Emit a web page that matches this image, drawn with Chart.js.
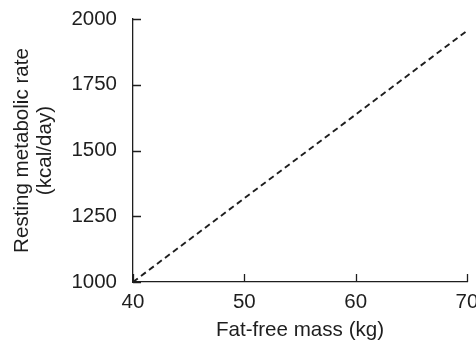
<!DOCTYPE html>
<html>
<head>
<meta charset="utf-8">
<script src="https://cdn.jsdelivr.net/npm/chart.js@4/dist/chart.umd.min.js"></script>
<style>
    html, body { margin: 0; padding: 0; background: #fff; }
    #wrap { width: 476px; height: 343px; }
</style>
</head>
<body>
<div id="wrap"><canvas id="rmrChart" width="476" height="343"></canvas></div>
<script>
// Fitted line: resting metabolic rate vs fat-free mass
const fatFreeMass = [40, 70];
const restingRate = [1000, 1955];
const xTicks = [40, 50, 60, 70];
const yTicks = [1000, 1250, 1500, 1750, 2000];

const ink = '#1e1e1e';
const labelFont = { family: 'Liberation Sans, Arial, sans-serif', size: 20.5 };
const titleFont = { family: 'Liberation Sans, Arial, sans-serif', size: 20.6, lineHeight: 1.15 };

// tick marks point into the plot, so draw them ourselves
const innerTicks = {
    id: 'innerTicks',
    afterDatasetsDraw(chart) {
        const ctx = chart.ctx;
        const xs = chart.scales.x, ys = chart.scales.y;
        const len = 8;
        ctx.save();
        ctx.strokeStyle = ink;
        ctx.lineWidth = 1.3;
        ctx.beginPath();
        xTicks.forEach(v => {
            const px = Math.round(xs.getPixelForValue(v)) + 0.5;
            ctx.moveTo(px, ys.bottom);
            ctx.lineTo(px, ys.bottom - len);
        });
        yTicks.forEach(v => {
            const py = Math.round(ys.getPixelForValue(v)) + 0.5;
            ctx.moveTo(xs.left, py);
            ctx.lineTo(xs.left + len, py);
        });
        ctx.stroke();
        ctx.restore();
    }
};

new Chart(document.getElementById('rmrChart'), {
    type: 'line',
    data: {
        datasets: [{
            data: fatFreeMass.map((x, i) => ({ x: x, y: restingRate[i] })),
            borderColor: ink,
            borderWidth: 1.9,
            borderDash: [6, 4],
            pointRadius: 0,
            fill: false,
            tension: 0
        }]
    },
    options: {
        responsive: false,
        animation: false,
        events: [],
        layout: { padding: { left: 0, right: 9, top: 19, bottom: 0 } },
        plugins: { legend: { display: false }, tooltip: { enabled: false } },
        scales: {
            x: {
                type: 'linear',
                min: 40,
                max: 70,
                afterBuildTicks: s => { s.ticks = xTicks.map(v => ({ value: v })); },
                afterFit: s => { s.height = 61; s.paddingLeft = 0; s.paddingRight = 0; },
                ticks: { color: ink, font: labelFont, padding: 8, maxRotation: 0, callback: v => String(v) },
                grid: { display: false, drawTicks: false },
                border: { display: true, color: ink, width: 1.3 },
                title: {
                    display: true,
                    text: 'Fat-free mass (kg)',
                    color: ink,
                    font: titleFont,
                    padding: { top: 0, bottom: 1 }
                }
            },
            y: {
                min: 1000,
                max: 2000,
                afterBuildTicks: s => { s.ticks = yTicks.map(v => ({ value: v })); },
                afterFit: s => { s.width = 133; s.paddingTop = 0; s.paddingBottom = 0; },
                ticks: { color: ink, font: labelFont, padding: 16, callback: v => String(v) },
                grid: { display: false, drawTicks: false },
                border: { display: true, color: ink, width: 1.3 },
                title: {
                    display: true,
                    text: ['Resting metabolic rate', '(kcal/day)'],
                    color: ink,
                    font: titleFont,
                    padding: { top: 10, bottom: 0 }
                }
            }
        }
    },
    plugins: [innerTicks]
});
</script>
</body>
</html>
